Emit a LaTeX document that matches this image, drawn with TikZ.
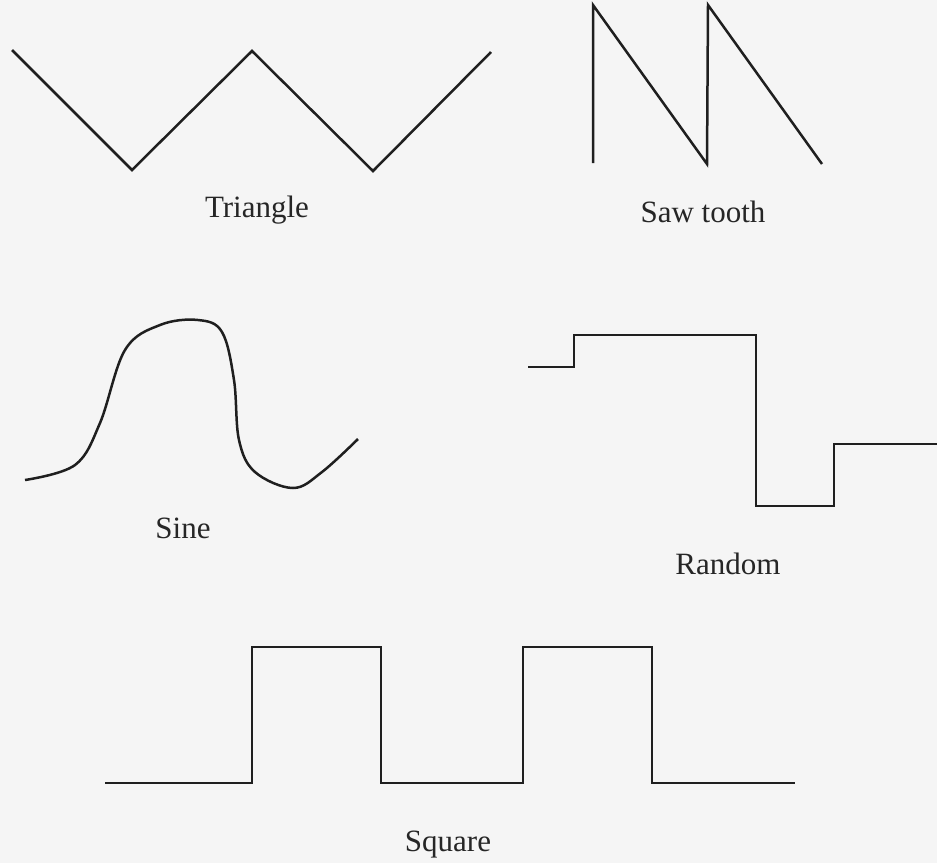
\documentclass[tikz,border=0pt]{standalone}
\usepackage{fontspec}
\setmainfont{Liberation Serif}
\tikzset{
  wave/.style={black!88,line width=1.25pt},
  caption/.style={anchor=base,text=black!85,font=\fontsize{15.5}{18}\selectfont}
}
\begin{document}
\begin{tikzpicture}[x=0.5pt,y=-0.5pt]
\fill[black!4] (0,0) rectangle (937,863);
\useasboundingbox (0,0) rectangle (937,863);
\draw[wave] (12,50) \foreach \x/\y in {132/170,252/51,373/171,491/52}{ -- (\x,\y)};
\node[caption] (triangle) at (257,217) {Triangle};
\draw[wave] (593,163) \foreach \x in {593,708}{ -- (\x,5) -- (\x+114,164)};
\node[caption] (sawtooth) at (703,222) {Saw tooth};
\draw[wave] plot[smooth,tension=0.6] coordinates {(25,480) (75,465) (100,423) (125,350)
  (160,325) (198,320) (222,332) (234,380) (239,440) (255,472) (293,488) (322,472) (358,439)};
\node[caption] (sine) at (183,538) {Sine};
\draw[wave] (528,367) -| (574,335) -| (756,506) -| (834,444) -- (937,444);
\node[caption] (random) at (728,574) {Random};
\draw[wave] (105,783) -| (252,647) -| (381,783) -| (523,647) -| (652,783) -- (795,783);
\node[caption] (square) at (448,851) {Square};
\end{tikzpicture}
\end{document}
